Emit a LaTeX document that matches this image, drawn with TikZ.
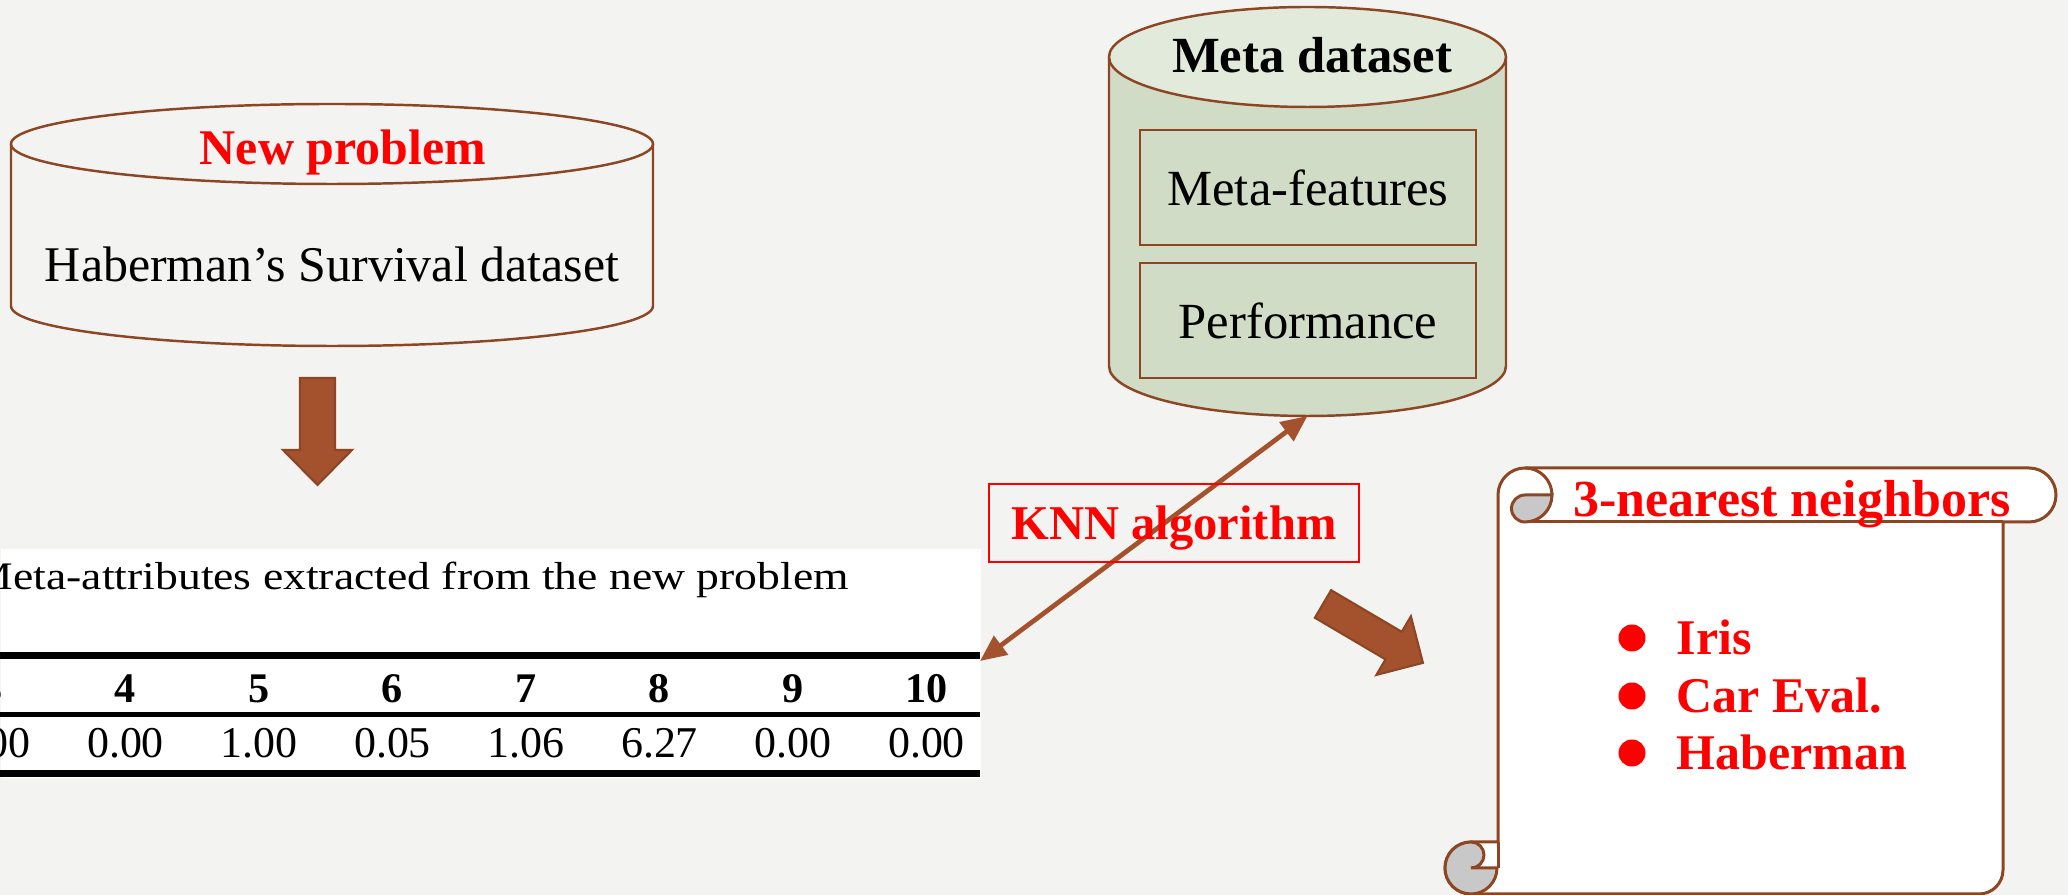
\documentclass[tikz,border=0pt]{standalone}
\usepackage{fontspec}
\setmainfont{Liberation Serif}
\usepackage{graphicx}
\usetikzlibrary{arrows.meta, positioning}

\definecolor{paper}{RGB}{243,243,241}
\definecolor{rim}{RGB}{140,70,35}
\definecolor{sienna}{RGB}{163,82,45}
\definecolor{sage}{RGB}{208,220,198}
\definecolor{sagetop}{RGB}{225,234,219}
\definecolor{curl}{RGB}{200,200,200}

\begin{document}
\begin{tikzpicture}[x=0.01cm, y=-0.01cm,
    rim/.style={draw=rim, line width=0.7pt},
    roll/.style={draw=rim, line width=0.85pt},
    blk/.style={fill=sienna, draw=rim, line width=0.6pt},
    lbl/.style={font=\fontsize{14.2}{17}\selectfont},
    hot/.style={text=red, font=\fontsize{14.2}{17}\selectfont\bfseries},
    mbox/.style={rim, fill=sage, minimum width=3.36cm, minimum height=1.15cm, inner sep=0pt, font=\fontsize{14.4}{17}\selectfont},
    knnbox/.style={draw=red, line width=0.6pt, minimum width=3.7cm, minimum height=0.78cm, text depth=0pt, text=red, font=\fontsize{13.8}{16}\selectfont\bfseries},
    knn/.style={sienna, line width=1.35pt, arrows={Triangle[length=7.5pt,width=6.5pt]-Triangle[length=7.5pt,width=6.5pt]}},
    num/.style={anchor=base, inner sep=0pt, font=\fontsize{12.5}{15}\selectfont},
  ]
  \useasboundingbox (0,0) rectangle (2068,895);
  \fill[paper] (0,0) rectangle (2068,895);

  \draw[rim] (11,144) -- (11,306) arc[start angle=180, end angle=0, x radius=321, y radius=40] -- (653,144);
  \draw[rim] (332,144) ellipse [x radius=321, y radius=40];
  \node[hot, anchor=base] (newp) at (343,165) {New problem};
  \node[lbl, anchor=base] (haber) at (332,282) {Haberman’s Survival dataset};

  \filldraw[blk] (300,378) -- (335,378) -- (335,450) -- (352,450) -- (317.5,485) -- (283,450) -- (300,450) -- cycle;

  \node[fill=white, anchor=north west, minimum width=9.8cm, minimum height=2.29cm, inner sep=0pt] (tab) at (0,548) {};
  \begin{scope}
    \clip (0,548) rectangle (980,777);
    \node[anchor=base west, inner sep=0pt, font=\fontsize{11.1}{13}\selectfont] (capt) at (-28,590)
      {\scalebox{1.17}[1]{Meta-attributes extracted from the new problem}};
    \draw[line width=2pt] (0,655.5) -- (980,655.5);
    \draw[line width=1.4pt] (0,714.5) -- (980,714.5);
    \draw[line width=2pt] (0,773.5) -- (980,773.5);
    \foreach \h/\v [count=\k from 0] in {3/0.00, 4/0.00, 5/1.00, 6/0.05, 7/1.06, 8/6.27, 9/0.00, 10/0.00} {
      \node[num, font=\fontsize{12}{14}\selectfont\bfseries] (h\h) at ({-8+133.5*\k},703) {\h};
      \node[num] (v\h) at ({-8+133.5*\k},758) {\v};
    }
  \end{scope}
  \coordinate (tabhook) at (980,661);

  \fill[sage] (1109,57) -- (1109,366) arc[start angle=180, end angle=0, x radius=198.5, y radius=50] -- (1506,57) -- cycle;
  \draw[rim] (1109,57) -- (1109,366) arc[start angle=180, end angle=0, x radius=198.5, y radius=50] -- (1506,57);
  \filldraw[rim, fill=sagetop] (1307.5,57) ellipse [x radius=198.5, y radius=50];
  \node[anchor=base, font=\fontsize{14.4}{17}\selectfont\bfseries] (metat) at (1312,73) {Meta dataset};
  \node[mbox] (mfeat) at (1308,187.5) {Meta-features};
  \node[mbox] (mperf) at (1308,320.5) {Performance};
  \coordinate (metabot) at (1307.5,416);

  \draw[knn] (tabhook) -- (metabot);
  \node[knnbox] (knnlbl) at (1174,523) {KNN algorithm};

  \begin{scope}[shift={(1323,604)}, rotate=-30.5]
    \filldraw[blk] (0,-16) -- (82,-16) -- (82,-34) -- (116,0) -- (82,34) -- (82,16) -- (0,16) -- cycle;
  \end{scope}

  \filldraw[roll, fill=white] (1525,468) -- (2029,468) arc[start angle=-90, end angle=90, radius=27]
    -- (2003,522) -- (2003,870) arc[start angle=0, end angle=90, radius=24]
    -- (1471,894) arc[start angle=90, end angle=270, radius=26]
    -- (1498,842) -- (1498,495) arc[start angle=180, end angle=270, radius=27] -- cycle;
  \draw[roll] (1525,522) -- (2003,522);
  \draw[roll] (1498,842) -- (1498,868);
  \draw[roll] (1525,468) arc[start angle=-90, end angle=0, radius=27];
  \filldraw[roll, fill=curl] (1525,495) -- (1552,495) arc[start angle=0, end angle=90, radius=27]
    arc[start angle=90, end angle=270, radius=13.5] -- cycle;
  \filldraw[roll, fill=curl] (1471,842) arc[start angle=270, end angle=0, radius=26]
    -- (1471,868) arc[start angle=90, end angle=-90, radius=13] -- cycle;

  \node[hot, anchor=base, font=\fontsize{14.8}{17}\selectfont\bfseries] (nntitle) at (1792,517) {3-nearest neighbors};
  \foreach \t/\yb [count=\i] in {Iris/655, Car Eval./713, Haberman/770} {
    \fill[red] (1632,\yb-17) circle (13.5);
    \node[hot, anchor=base west, inner sep=0pt] (nn\i) at (1676,\yb) {\t};
  }
\end{tikzpicture}
\end{document}
